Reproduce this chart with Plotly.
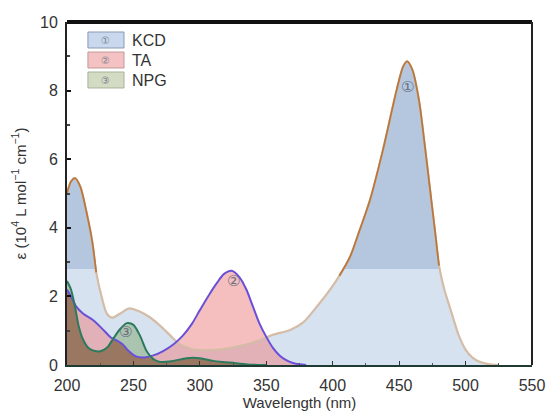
import plotly.graph_objects as go

# ---------------- data ----------------
kcd_x = [200, 203, 206, 210, 215, 219, 222, 226, 230, 234, 240, 247, 255, 262, 270, 278, 285, 295,
         305, 315, 330, 345, 355, 368, 378, 388, 398, 405, 413, 420, 428, 438, 448, 453, 456, 460,
         465, 469, 473, 477, 480, 484, 488, 492, 495, 500, 505, 510, 518, 525]
kcd_y = [5.0, 5.35, 5.45, 5.2, 4.4, 3.6, 2.7, 2.0, 1.5, 1.38, 1.5, 1.65, 1.55, 1.4, 1.15, 0.85, 0.6, 0.45,
         0.43, 0.45, 0.55, 0.72, 0.88, 1.02, 1.25, 1.7, 2.2, 2.6, 3.15, 3.9, 4.8, 6.3, 8.0, 8.7, 8.85, 8.6,
         7.7, 6.5, 5.2, 3.9, 2.9, 2.2, 1.7, 1.2, 0.85, 0.45, 0.22, 0.1, 0.02, 0.0]

ta_x = [200, 203, 207, 212, 220, 228, 233, 238, 242, 246, 252, 258, 265, 272, 280, 287, 294, 300,
        307, 313, 318, 324, 330, 335, 340, 345, 350, 355, 360, 365, 370, 375, 380]
ta_y = [2.2, 2.0, 1.7, 1.5, 1.3, 1.0, 0.8, 0.7, 0.6, 0.42, 0.25, 0.22, 0.28, 0.4, 0.6, 0.85, 1.2, 1.6,
        2.05, 2.4, 2.65, 2.75, 2.55, 2.2, 1.7, 1.2, 0.82, 0.5, 0.28, 0.14, 0.06, 0.02, 0.0]

npg_x = [200, 203, 206, 209, 212, 216, 220, 225, 230, 235, 240, 245, 250, 255, 260, 265, 270, 280,
         290, 300, 310, 320, 330, 340, 350]
npg_y = [2.45, 2.2, 1.7, 1.1, 0.75, 0.5, 0.42, 0.4, 0.5, 0.78, 1.05, 1.22, 1.17, 0.85, 0.4, 0.17, 0.09, 0.12,
         0.2, 0.2, 0.12, 0.08, 0.04, 0.01, 0.0]

series_names = ["KCD", "TA", "NPG"]
series_marks = ["①", "②", "③"]
mark_pos = [(456, 8.1), (325, 2.45), (244, 0.95)]
x_ticks = [200, 250, 300, 350, 400, 450, 500, 550]
y_ticks = [0, 2, 4, 6, 8, 10]

band = 2.8  # level where the KCD fill changes shade


# ---------------- helpers ----------------
def interp(xs, ys, x):
    if x < xs[0] or x > xs[-1]:
        return 0.0
    for i in range(len(xs) - 1):
        if xs[i] <= x <= xs[i + 1]:
            t = (x - xs[i]) / (xs[i + 1] - xs[i])
            return ys[i] + t * (ys[i + 1] - ys[i])
    return ys[-1]


def clip_at(xs, ys, level):
    """Clip a curve at `level`, inserting the crossing points."""
    ox, oy = [], []
    for i in range(len(xs)):
        if i > 0:
            a, b = ys[i - 1], ys[i]
            if (a - level) * (b - level) < 0:
                t = (level - a) / (b - a)
                ox.append(xs[i - 1] + t * (xs[i] - xs[i - 1]))
                oy.append(level)
        ox.append(xs[i])
        oy.append(min(ys[i], level))
    return ox, oy


grid = sorted(set(ta_x) | set(npg_x))
overlap_y = [min(interp(ta_x, ta_y, g), interp(npg_x, npg_y, g)) for g in grid]
low_x, low_y = clip_at(kcd_x, kcd_y, band)
kcd_high_line = [v if v >= band - 0.4 else None for v in kcd_y]

fig = go.Figure()

# KCD fills
fig.add_trace(go.Scatter(x=kcd_x, y=kcd_y, mode="lines", line=dict(width=0, shape="spline", smoothing=0.8),
                         fill="tozeroy", fillcolor="#b4c7df", showlegend=False, hoverinfo="skip"))
fig.add_trace(go.Scatter(x=low_x, y=low_y, mode="lines", line=dict(width=0),
                         fill="tozeroy", fillcolor="#d6e2ef", showlegend=False, hoverinfo="skip"))
# TA fill
fig.add_trace(go.Scatter(x=ta_x, y=ta_y, mode="lines", line=dict(width=0, shape="spline", smoothing=0.8),
                         fill="tozeroy", fillcolor="rgba(236,128,128,0.50)", showlegend=False, hoverinfo="skip"))
# NPG fill
fig.add_trace(go.Scatter(x=npg_x, y=npg_y, mode="lines", line=dict(width=0, shape="spline", smoothing=0.8),
                         fill="tozeroy", fillcolor="rgba(120,160,100,0.45)", showlegend=False, hoverinfo="skip"))
# overlap (brown)
fig.add_trace(go.Scatter(x=grid, y=overlap_y, mode="lines", line=dict(width=0, shape="spline", smoothing=0.8),
                         fill="tozeroy", fillcolor="rgba(130,70,50,0.5)", showlegend=False, hoverinfo="skip"))

# lines
fig.add_trace(go.Scatter(x=kcd_x, y=kcd_y, mode="lines",
                         line=dict(color="#d4bca6", width=2.2, shape="spline", smoothing=0.8),
                         showlegend=False, hoverinfo="skip"))
fig.add_trace(go.Scatter(x=kcd_x, y=kcd_high_line, mode="lines", connectgaps=False,
                         line=dict(color="#b9773d", width=1.8, shape="spline", smoothing=0.8),
                         showlegend=False, hoverinfo="skip"))
fig.add_trace(go.Scatter(x=ta_x, y=ta_y, mode="lines",
                         line=dict(color="#6a4fd8", width=2.0, shape="spline", smoothing=0.8),
                         showlegend=False, hoverinfo="skip"))
fig.add_trace(go.Scatter(x=npg_x, y=npg_y, mode="lines",
                         line=dict(color="#2c7a5e", width=2.0, shape="spline", smoothing=0.8),
                         showlegend=False, hoverinfo="skip"))

# circled numbers on curves
for m, (mx, my) in zip(series_marks, mark_pos):
    fig.add_annotation(x=mx, y=my, text=m, showarrow=False, yanchor="middle", xanchor="center",
                       font=dict(family="DejaVu Sans", size=15, color="#6b6f80"))

# custom legend
leg_fill = ["#c9d8ec", "#f4c2c2", "#d3dbc3"]
leg_line = ["#8b9ab3", "#c09a9a", "#a8b29a"]
for i, name in enumerate(series_names):
    yc = 0.9475 - i * 0.0583
    y0, y1 = yc - 0.0233, yc + 0.0233
    fig.add_shape(type="rect", xref="paper", yref="paper", x0=0.045, x1=0.1226, y0=y0, y1=y1,
                  fillcolor=leg_fill[i], line=dict(color=leg_line[i], width=1))
    fig.add_annotation(xref="paper", yref="paper", x=0.0838, y=yc, text=series_marks[i],
                       xanchor="center", yanchor="middle",
                       showarrow=False, font=dict(family="DejaVu Sans", size=10, color="#7a8090"))
    fig.add_annotation(xref="paper", yref="paper", x=0.135, y=yc, text=name,
                       xanchor="left", yanchor="middle",
                       showarrow=False, font=dict(family="Liberation Sans", size=16, color="#333333"))

# frame: thick top, right border
fig.add_shape(type="line", xref="paper", yref="paper", x0=0, x1=1, y0=1, y1=1,
              line=dict(color="#111111", width=4))
fig.add_shape(type="line", xref="paper", yref="paper", x0=1, x1=1, y0=0, y1=1,
              line=dict(color="#222222", width=2))

fig.update_layout(
    width=550, height=412,
    margin=dict(l=67, r=18, t=22, b=47),
    plot_bgcolor="white", paper_bgcolor="white",
    font=dict(family="Liberation Sans", size=16, color="#333333"),
    showlegend=False,
    xaxis=dict(range=[200, 550], tickvals=x_ticks, ticks="inside", ticklen=4, tickcolor="#333333",
               ticklabelstandoff=5, automargin=False,
               showline=True, linecolor="#1e3a33", linewidth=2, showgrid=False, zeroline=False,
               minor=dict(dtick=25, ticks="inside", ticklen=2, tickcolor="#555555"),
               title=dict(text="Wavelength (nm)", font=dict(size=15), standoff=0)),
    yaxis=dict(range=[0, 10], tickvals=y_ticks, ticks="inside", ticklen=4, tickwidth=2, tickcolor="#111111",
               ticklabelstandoff=4, automargin=False,
               showline=True, linecolor="#222222", linewidth=2, showgrid=False, zeroline=False,
               minor=dict(dtick=1, ticks="inside", ticklen=3, tickcolor="#444444"),
               title=dict(text="ε (10<sup>4</sup> L mol<sup>−1</sup> cm<sup>−1</sup>)", font=dict(size=15),
                          standoff=10)),
)

fig.write_html("out.html")
